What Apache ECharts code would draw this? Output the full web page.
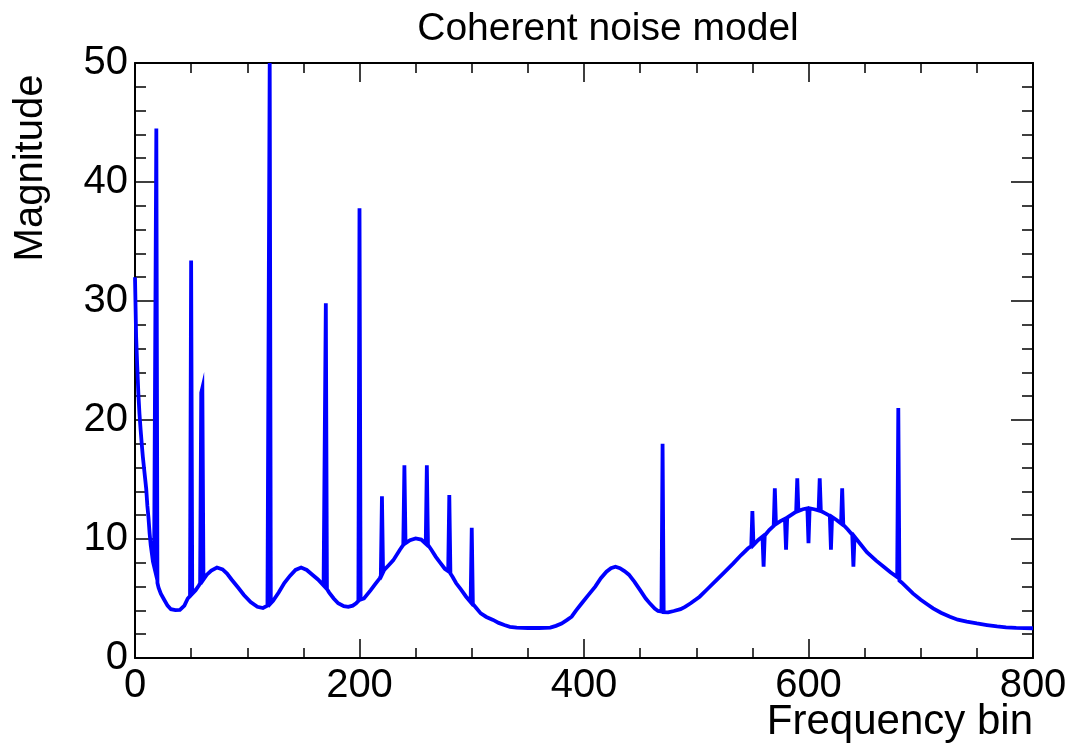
<!DOCTYPE html>
<html>
<head>
<meta charset="utf-8">
<script src="https://cdn.jsdelivr.net/npm/echarts@6/dist/echarts.min.js"></script>
<style>
html,body{margin:0;padding:0;background:#fff;}
#chart{width:1072px;height:752px;}
</style>
</head>
<body>
<div id="chart"></div>
<script>
// ---- data ----
const titleText = 'Coherent noise model';
const xTitle = 'Frequency bin';
const yTitle = 'Magnitude';

const bins = [
  0,1,2,3,4,5,6,7,8,9,10,11,12,13,14,15,16,17,18,19,20,21,23,26,29,32,36,40,44,47,49,50,51,54,57,58,59,60,61,64,68,73,78,
  82,86,92,97,103,109,114,118,119,120,121,123,128,133,138,143,148,153,158,163,168,169,170,171,173,177,181,186,190,194,197,199,200,201,
  204,210,214,218,219,220,221,222,226,230,236,239,240,241,245,250,255,259,260,261,264,268,272,276,279,280,281,283,286,290,295,299,300,301,
  304,308,313,319,324,329,334,340,350,360,370,375,380,385,389,393,398,404,410,415,420,424,428,432,436,440,445,450,455,459,463,466,469,470,471,
  475,480,486,490,495,503,510,518,525,533,540,546,549,550,551,555,559,560,561,565,569,570,571,575,579,580,581,585,589,590,591,595,599,600,601,
  605,609,610,611,615,619,620,621,625,629,630,631,635,639,640,641,646,652,660,667,673,679,680,681,683,688,693,700,706,711,718,726,733,741,750,
  759,768,776,785,800
];
const magnitude = [
  32.0,27.0,24.5,22.2,20.5,19.2,18.0,16.9,16.0,15.1,14.2,12.8,11.8,10.5,9.5,8.8,8.1,7.7,7.6,44.5,6.3,5.9,5.4,4.9,4.4,4.1,4.03,4.05,4.4,5.0,5.2,33.4,5.4,5.7,6.1,6.3,22.3,22.7,6.6,7.0,7.35,7.6,7.45,
  7.1,6.6,5.9,5.3,4.7,4.3,4.2,4.4,4.5,50,4.6,4.8,5.5,6.3,6.9,7.4,7.6,7.4,7.0,6.6,6.1,6.0,29.8,5.8,5.5,5.0,4.6,4.35,4.3,4.4,4.6,4.8,37.8,4.9,
  5.0,5.7,6.2,6.7,6.9,13.6,7.2,7.4,7.8,8.2,9.1,9.5,16.2,9.65,9.9,10.05,9.95,9.6,16.2,9.5,9.1,8.5,8.0,7.5,7.3,13.7,7.1,6.8,6.3,5.8,5.15,4.7,10.95,4.55,
  4.2,3.75,3.45,3.2,2.95,2.77,2.62,2.55,2.52,2.52,2.55,2.7,2.9,3.2,3.47,4.0,4.6,5.3,6.0,6.7,7.25,7.55,7.67,7.55,7.3,7.0,6.4,5.7,5.0,4.55,4.15,3.95,3.9,18.0,3.85,
  3.84,3.95,4.1,4.3,4.6,5.15,5.8,6.55,7.2,7.95,8.65,9.2,9.4,12.35,9.5,9.9,10.2,7.67,10.3,10.75,11.1,14.26,11.25,11.5,11.7,9.1,11.8,12.05,12.3,15.1,12.35,12.5,12.58,9.64,12.58,
  12.5,12.4,15.1,12.35,12.15,11.95,9.1,11.85,11.6,11.3,14.26,11.2,10.8,10.35,7.67,10.2,9.6,8.9,8.2,7.67,7.2,6.8,21.0,6.5,6.35,5.9,5.43,4.9,4.5,4.17,3.8,3.47,3.22,3.05,2.9,
  2.77,2.65,2.58,2.53,2.5
];
const xTicks = [0, 200, 400, 600, 800];
const yTicks = [0, 10, 20, 30, 40, 50];

// ---- chart ----
const seriesData = bins.map((b, i) => [b, magnitude[i]]);
const chart = echarts.init(document.getElementById('chart'), null, {renderer: 'canvas'});
const FONT = '"Liberation Sans", Arial, Helvetica, sans-serif';

function xAxisCfg(pos, showLabel) {
  return {
    type: 'value', position: pos, min: xTicks[0], max: xTicks[xTicks.length - 1],
    interval: xTicks[1] - xTicks[0],
    axisLine: {show: true, onZero: false, lineStyle: {color: '#000', width: 2}},
    axisTick: {show: true, inside: true, length: 19, lineStyle: {color: '#000', width: 1.5}},
    minorTick: {show: true, splitNumber: 4, length: 10, lineStyle: {color: '#000', width: 1.5}},
    splitLine: {show: false},
    axisLabel: {show: showLabel, fontSize: 40, color: '#000', fontFamily: FONT, margin: 8, showMaxLabel: true, showMinLabel: true}
  };
}
function yAxisCfg(pos, showLabel) {
  return {
    type: 'value', position: pos, min: yTicks[0], max: yTicks[yTicks.length - 1],
    interval: yTicks[1] - yTicks[0],
    axisLine: {show: true, onZero: false, lineStyle: {color: '#000', width: 2}},
    axisTick: {show: true, inside: true, length: 22, lineStyle: {color: '#000', width: 1.5}},
    minorTick: {show: true, splitNumber: 5, length: 11, lineStyle: {color: '#000', width: 1.5}},
    splitLine: {show: false},
    axisLabel: {show: showLabel, fontSize: 40, color: '#000', fontFamily: FONT, margin: 7, showMaxLabel: true, showMinLabel: true}
  };
}

chart.setOption({
  animation: false,
  backgroundColor: '#fff',
  grid: {left: 135, right: 39, top: 63, bottom: 94, containLabel: false},
  xAxis: [xAxisCfg('bottom', true), xAxisCfg('top', false)],
  yAxis: [yAxisCfg('left', true), yAxisCfg('right', false)],
  series: [{
    type: 'line', xAxisIndex: 0, yAxisIndex: 0,
    data: seriesData, showSymbol: false, symbol: 'none', clip: true,
    lineStyle: {color: '#0000ff', width: 3.8, join: 'miter'},
    itemStyle: {color: '#0000ff'}
  }],
  graphic: [
    {type: 'text', x: 608, y: 29, style: {text: titleText, font: '39px ' + FONT, fill: '#000', align: 'center', verticalAlign: 'middle'}},
    {type: 'text', x: 1033, y: 722, style: {text: xTitle, font: '42px ' + FONT, fill: '#000', align: 'right', verticalAlign: 'middle'}},
    {type: 'text', x: 31, y: 168, rotation: Math.PI / 2, style: {text: yTitle, font: '40px ' + FONT, fill: '#000', align: 'center', verticalAlign: 'middle'}}
  ]
});
</script>
</body>
</html>
